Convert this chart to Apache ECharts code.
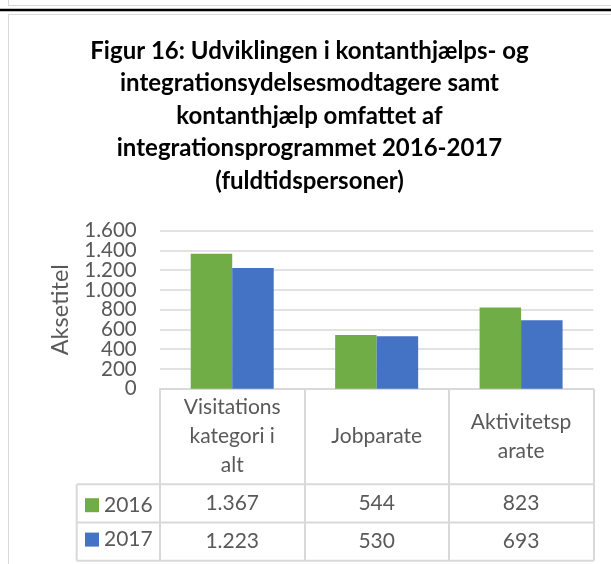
<!DOCTYPE html>
<html>
<head>
<meta charset="utf-8">
<script src="https://cdn.jsdelivr.net/npm/echarts@6/dist/echarts.min.js"></script>
<style>
html, body { margin: 0; padding: 0; background: #fff; }
#chart { width: 611px; height: 564px; }
</style>
</head>
<body>
<div id="chart"></div>
<script>
// data
const categories = ['Visitations\nkategori i\nalt', 'Jobparate', 'Aktivitetsp\narate'];
const years = ['2016', '2017'];
const values2016 = [1367, 544, 823];
const values2017 = [1223, 530, 693];
const yMin = 0;
const yMax = 1600;
const yStep = 200;

const titleText = 'Figur 16: Udviklingen i kontanthjælps- og\nintegrationsydelsesmodtagere samt\nkontanthjælp omfattet af\nintegrationsprogrammet 2016-2017\n(fuldtidspersoner)';

// layout
const FONT = 'Lato';
const TXT = '#595959';
const LINE = '#d9d9d9';
const GRID = { left: 160, top: 230.7, width: 433.3, height: 158 };
const AXIS_Y = GRID.top + GRID.height;
const HEADER_H = 95.6;
const ROW_H = 38.2;
const TABLE_LEFT = 76.7;
const TABLE_RIGHT = GRID.left + GRID.width;
const TABLE_BOTTOM = AXIS_Y + HEADER_H + ROW_H * 2;

function fmt(n) {
  return String(n).replace(/\B(?=(\d{3})+(?!\d))/g, '.');
}

let chart = echarts.init(document.getElementById('chart'));

function hline(y, x1, x2, color, w) {
  return { type: 'line', silent: true, shape: { x1: x1, y1: y, x2: x2, y2: y }, style: { stroke: color, lineWidth: w } };
}
function vline(x, y1, y2, color, w) {
  return { type: 'line', silent: true, shape: { x1: x, y1: y1, x2: x, y2: y2 }, style: { stroke: color, lineWidth: w } };
}

let rowLabel = function (margin) {
  return {
    margin: margin,
    verticalAlign: 'middle',
    fontSize: 21,
    fontFamily: FONT,
    color: TXT,
    interval: 0
  };
};

// two overlaid value axes: ECharts hides labels next to min/max when they crowd,
// so the end labels come from a second axis
let valueAxis = function (ends) {
  return {
    type: 'value',
    position: 'left',
    min: yMin,
    max: yMax,
    interval: yStep,
    axisLine: { show: false },
    axisTick: { show: false },
    axisLabel: {
      margin: 23.3,
      fontSize: 20.5,
      fontFamily: FONT,
      color: TXT,
      showMinLabel: ends,
      showMaxLabel: ends,
      formatter: function (v) {
        let isEnd = v === yMin || v === yMax;
        return isEnd === ends ? fmt(v) : '';
      }
    },
    splitLine: { show: !ends, lineStyle: { color: LINE, width: 1.5 } }
  };
};

let yMain = valueAxis(false);
yMain.name = 'Aksetitel';
yMain.nameLocation = 'middle';
yMain.nameRotate = 90;
yMain.nameGap = 88;
yMain.nameTextStyle = { fontSize: 23.5, fontFamily: FONT, color: TXT };

let option = {
  animation: false,
  backgroundColor: '#fff',
  title: {
    text: titleText,
    left: 309.5,
    top: 35,
    padding: 0,
    textAlign: 'center',
    textStyle: {
      fontFamily: FONT,
      fontWeight: 'bold',
      fontSize: 24,
      lineHeight: 32.5,
      color: '#000'
    }
  },
  legend: {
    data: years,
    orient: 'vertical',
    left: 85,
    top: AXIS_Y + HEADER_H + ROW_H / 2 - 8.7,
    padding: 0,
    itemWidth: 14,
    itemHeight: 14,
    itemGap: ROW_H - 24.8,
    icon: 'rect',
    selectedMode: false,
    textStyle: { fontSize: 21, fontFamily: FONT, color: TXT }
  },
  grid: {
    left: GRID.left,
    top: GRID.top,
    width: GRID.width,
    height: GRID.height
  },
  xAxis: [
    {
      type: 'category',
      position: 'bottom',
      data: categories,
      axisLine: { lineStyle: { color: LINE, width: 2 } },
      axisTick: { show: true, length: TABLE_BOTTOM - AXIS_Y, lineStyle: { color: LINE, width: 2 } },
      axisLabel: Object.assign(rowLabel(HEADER_H / 2), { lineHeight: 29 })
    },
    {
      type: 'category',
      position: 'bottom',
      data: values2016.map(fmt),
      axisLine: { show: false },
      axisTick: { show: false },
      axisLabel: rowLabel(HEADER_H + ROW_H / 2)
    },
    {
      type: 'category',
      position: 'bottom',
      data: values2017.map(fmt),
      axisLine: { show: false },
      axisTick: { show: false },
      axisLabel: rowLabel(HEADER_H + ROW_H * 1.5)
    }
  ],
  yAxis: [yMain, valueAxis(true)],
  series: [
    {
      name: years[0],
      type: 'bar',
      data: values2016,
      barWidth: 41.5,
      barGap: '0%',
      itemStyle: { color: '#70AD47' }
    },
    {
      name: years[1],
      type: 'bar',
      data: values2017,
      barWidth: 41.5,
      barGap: '0%',
      itemStyle: { color: '#4472C4' }
    }
  ],
  graphic: [
    // page frame
    hline(5.5, 8, 611, LINE, 1),
    vline(8.5, 0, 6, LINE, 1),
    hline(10, 0, 611, '#000', 2.5),
    hline(14.5, 8, 611, LINE, 1),
    vline(8.5, 14, 564, LINE, 1),
    // data table rows
    hline(AXIS_Y + HEADER_H, TABLE_LEFT, TABLE_RIGHT, LINE, 2),
    hline(AXIS_Y + HEADER_H + ROW_H, TABLE_LEFT, TABLE_RIGHT, LINE, 2),
    hline(TABLE_BOTTOM, TABLE_LEFT, TABLE_RIGHT, LINE, 2),
    vline(TABLE_LEFT, AXIS_Y + HEADER_H, TABLE_BOTTOM, LINE, 2)
  ]
};

option && chart.setOption(option);
</script>
</body>
</html>
